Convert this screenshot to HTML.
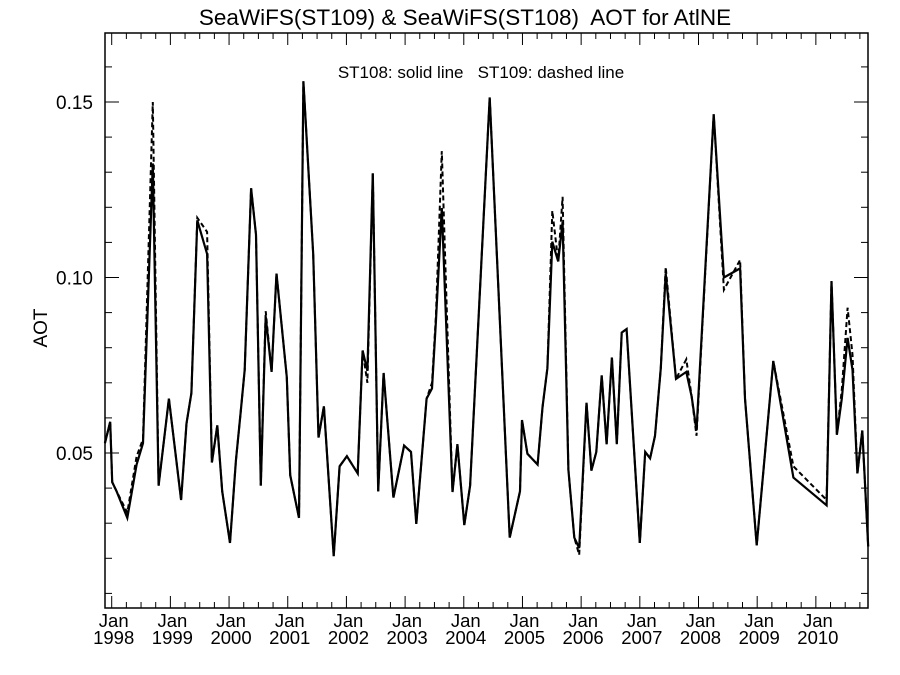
<!DOCTYPE html>
<html><head><meta charset="utf-8"><style>
body{margin:0;background:#fff}
svg{display:block;font-family:"Liberation Sans",sans-serif}
text{white-space:pre}
</style></head><body>
<svg id="chart" width="900" height="675" viewBox="0 0 900 675" xmlns="http://www.w3.org/2000/svg" xml:space="preserve">
<rect width="900" height="675" fill="#fff"/>
<text x="465" y="25" font-size="22.5" text-anchor="middle">SeaWiFS(ST109) &amp; SeaWiFS(ST108)  AOT for AtlNE</text>
<text x="481" y="78" font-size="17" text-anchor="middle">ST108: solid line   ST109: dashed line</text>
<text transform="translate(47,328) rotate(-90)" font-size="19" text-anchor="middle">AOT</text>
<g id="axes"></g>
<g id="series"></g>
<rect x="105" y="33" width="763" height="575" fill="none" stroke="#000" stroke-width="1.5"/>
</svg>
<script>
const months = [-1.4,-0.3,0.1,1.0,3.2,5.1,6.4,8.4,9.6,11.7,14.2,15.3,16.3,17.5,19.5,20.5,21.6,22.6,24.2,25.4,26.4,27.2,28.5,29.5,30.5,31.5,32.7,33.7,35.8,36.5,38.3,39.2,41.2,42.3,43.4,45.4,46.6,48.1,50.3,51.3,52.3,53.4,54.5,55.6,57.6,59.8,61.2,62.3,64.4,65.5,66.3,67.5,69.7,70.7,72.1,73.3,77.3,81.4,83.5,83.9,85.0,87.1,88.1,89.1,90.1,91.3,92.2,93.4,94.6,95.6,97.1,98.1,99.1,100.2,101.2,102.3,103.3,104.3,105.3,108.0,109.1,110.1,111.1,112.3,113.3,115.4,117.5,118.6,119.6,123.1,125.2,128.5,129.5,131.9,135.3,139.4,146.2,147.2,148.3,149.3,150.5,151.5,152.5,153.5,154.7];
const st108 = [0.0528,0.0589,0.0417,0.0391,0.0315,0.0467,0.0528,0.1325,0.0407,0.0655,0.0366,0.0584,0.0671,0.1163,0.1067,0.0473,0.0579,0.0391,0.0244,0.0478,0.0620,0.0737,0.1254,0.1122,0.0407,0.0889,0.0731,0.1011,0.0716,0.0437,0.0315,0.1559,0.1067,0.0544,0.0633,0.0206,0.0462,0.0491,0.0442,0.0792,0.0734,0.1297,0.0391,0.0728,0.0373,0.0521,0.0503,0.0298,0.0655,0.0684,0.0874,0.1198,0.0389,0.0525,0.0295,0.0407,0.1513,0.0259,0.0391,0.0594,0.0498,0.0467,0.0630,0.0742,0.1102,0.1046,0.1158,0.0452,0.0259,0.0229,0.0643,0.0450,0.0503,0.0721,0.0525,0.0772,0.0525,0.0843,0.0853,0.0244,0.0503,0.0485,0.0549,0.0742,0.1011,0.0711,0.0731,0.0660,0.0564,0.1465,0.1000,0.1026,0.0655,0.0237,0.0762,0.0430,0.0351,0.0990,0.0552,0.0655,0.0828,0.0737,0.0442,0.0564,0.0234];
const st109 = [0.0528,0.0589,0.0417,0.0391,0.0330,0.0490,0.0540,0.1500,0.0407,0.0655,0.0366,0.0584,0.0671,0.1170,0.1130,0.0473,0.0579,0.0391,0.0244,0.0478,0.0620,0.0737,0.1254,0.1122,0.0407,0.0904,0.0731,0.1011,0.0716,0.0437,0.0315,0.1559,0.1067,0.0544,0.0633,0.0206,0.0462,0.0491,0.0442,0.0792,0.0700,0.1297,0.0391,0.0728,0.0373,0.0521,0.0503,0.0298,0.0655,0.0700,0.0890,0.1360,0.0389,0.0525,0.0295,0.0407,0.1513,0.0259,0.0391,0.0594,0.0498,0.0467,0.0630,0.0742,0.1190,0.1046,0.1230,0.0452,0.0259,0.0210,0.0643,0.0450,0.0503,0.0721,0.0525,0.0772,0.0525,0.0843,0.0853,0.0244,0.0503,0.0485,0.0549,0.0742,0.1030,0.0711,0.0767,0.0660,0.0549,0.1465,0.0965,0.1050,0.0655,0.0237,0.0762,0.0462,0.0366,0.0990,0.0552,0.0680,0.0914,0.0780,0.0442,0.0564,0.0234];
const yTickValues = [0.05,0.10,0.15];
const yTickLabels = ["0.05","0.10","0.15"];
const yearLabels = ["1998","1999","2000","2001","2002","2003","2004","2005","2006","2007","2008","2009","2010"];

const NS="http://www.w3.org/2000/svg";
const xs = m => 111.7 + m*4.89;
const ys = v => 102 + (0.15 - v)*3510;
const axes=document.getElementById('axes'), series=document.getElementById('series');
function mk(tag, attrs, parent){const e=document.createElementNS(NS,tag);for(const k in attrs)e.setAttribute(k,attrs[k]);parent.appendChild(e);return e;}

for(let i=1;i<=16;i++){
  const v=i/100, y=ys(v); if(y<33||y>608) continue;
  const major = i%5===0, L = major?14:7;
  const t1=mk('line',{x1:105,x2:105+L,y1:y,y2:y,stroke:'#000','stroke-width':1},axes);
  
  
  const t2=mk('line',{x1:868,x2:868-L,y1:y,y2:y,stroke:'#000','stroke-width':1},axes);
  
  
}
yTickValues.forEach((v,i)=>{
  const t=mk('text',{x:93,y:ys(v)+7,'font-size':19,'text-anchor':'end'},axes);
  t.textContent=yTickLabels[i];
  
  
});
for(let m=0;m<=156;m+=3){
  const x=xs(m); if(x>868) continue;
  const major=m%12===0, L=major?12:6;
  const b=mk('line',{x1:x,x2:x,y1:608,y2:608-L,stroke:'#000','stroke-width':1},axes);
  
  
  const t=mk('line',{x1:x,x2:x,y1:33,y2:33+L,stroke:'#000','stroke-width':1},axes);
  
  
}
yearLabels.forEach((yr,i)=>{
  const x=xs(i*12)+2;
  const a=mk('text',{x:x,y:627,'font-size':18.5,'text-anchor':'middle'},axes);
  a.textContent='Jan';
  
  
  const b=mk('text',{x:x,y:644,'font-size':18.5,'text-anchor':'middle'},axes);
  b.textContent=yr;
  
  
});
function pts(vals){return months.map((m,i)=>xs(m).toFixed(1)+','+ys(vals[i]).toFixed(1)).join(' ');}
const d=mk('polyline',{points:pts(st109),fill:'none',stroke:'#000','stroke-width':2,'stroke-dasharray':'5,3'},series);


const s=mk('polyline',{points:pts(st108),fill:'none',stroke:'#000','stroke-width':2.2,'stroke-linejoin':'miter'},series);


</script>
</body></html>
